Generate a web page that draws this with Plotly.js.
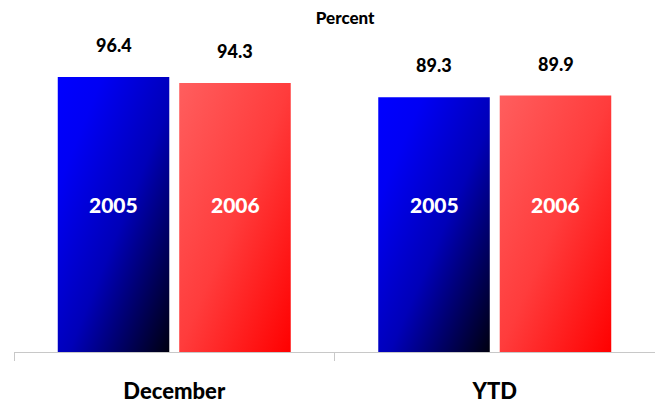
<!DOCTYPE html>
<html>
<head>
<meta charset="utf-8">
<script src="https://cdn.plot.ly/plotly-3.0.1.min.js"></script>
<style>html,body{margin:0;padding:0;background:#fff;}#chart{width:655px;height:403px;}</style>
</head>
<body>
<div id="chart"></div>
<script>
const categories = ['December', 'YTD'];
const seriesNames = ['2005', '2006'];
const values2005 = [96.4, 89.3];
const values2006 = [94.3, 89.9];

const FONT = 'Lato, "Open Sans", sans-serif';
const slotShift = 60.75;

const traces = [
  {type: 'bar', name: seriesNames[0], x: categories, y: values2005, marker: {color: '#0000cc', line: {width: 0}}, hoverinfo: 'none'},
  {type: 'bar', name: seriesNames[1], x: categories, y: values2006, marker: {color: '#ff3030', line: {width: 0}}, hoverinfo: 'none'}
];

const annotations = [];
const allValues = [values2005, values2006];
allValues.forEach((vals, si) => {
  const shift = si === 0 ? -slotShift : slotShift;
  categories.forEach((c, ci) => {
    annotations.push({
      x: c, y: vals[ci], xref: 'x', yref: 'y', xshift: shift, yshift: 19,
      text: vals[ci].toFixed(1), showarrow: false, yanchor: 'bottom',
      font: {family: FONT, size: 18, color: '#000', weight: 900}
    });
    annotations.push({
      x: c, y: 0.474, xref: 'x', yref: 'paper', xshift: shift,
      text: seriesNames[si], showarrow: false, yanchor: 'middle',
      font: {family: FONT, size: 21, color: '#fff', weight: 900}
    });
  });
});

const layout = {
  width: 655, height: 403,
  margin: {l: 14, r: 0, t: 40, b: 51},
  paper_bgcolor: '#fff', plot_bgcolor: '#fff',
  showlegend: false,
  barmode: 'group', bargap: 0.242, bargroupgap: 0.082,
  title: {text: 'Percent', x: 0.527, xanchor: 'center', y: 0.955, yanchor: 'middle',
          font: {family: FONT, size: 17, color: '#000', weight: 900}},
  xaxis: {
    showline: true, linecolor: '#c8c8c8', linewidth: 1,
    ticks: 'outside', tickson: 'boundaries', ticklen: 8, tickcolor: '#c8c8c8', tickwidth: 1,
    ticklabelstandoff: 20,
    tickfont: {family: FONT, size: 22, color: '#000', weight: 900},
    showgrid: false, zeroline: false, fixedrange: true
  },
  yaxis: {range: [0, 109.4], visible: false, showgrid: false, zeroline: false, fixedrange: true},
  annotations: annotations
};

Plotly.newPlot('chart', traces, layout, {displayModeBar: false, staticPlot: true}).then(gd => {
  const svgNS = 'http://www.w3.org/2000/svg';
  const svg = gd.querySelector('svg.main-svg');
  let defs = svg.querySelector('defs');
  if (!defs) { defs = document.createElementNS(svgNS, 'defs'); svg.insertBefore(defs, svg.firstChild); }
  const grads = [
    {id: 'grad2005', stops: [[0, '#0000ff'], [0.2, '#0000f4'], [0.55, '#0000b8'], [1, '#000010']]},
    {id: 'grad2006', stops: [[0, '#ff5e5e'], [0.5, '#ff3c3c'], [1, '#ff0000']]}
  ];
  grads.forEach(g => {
    const lg = document.createElementNS(svgNS, 'linearGradient');
    lg.setAttribute('id', g.id);
    lg.setAttribute('x1', '0'); lg.setAttribute('y1', '0');
    lg.setAttribute('x2', '1'); lg.setAttribute('y2', '1');
    g.stops.forEach(s => {
      const st = document.createElementNS(svgNS, 'stop');
      st.setAttribute('offset', s[0]);
      st.setAttribute('stop-color', s[1]);
      lg.appendChild(st);
    });
    defs.appendChild(lg);
  });
  const barTraces = gd.querySelectorAll('.barlayer .trace.bars');
  barTraces.forEach((t, i) => {
    t.querySelectorAll('.point path').forEach(p => {
      p.style.setProperty('fill', 'url(#' + grads[i].id + ')');
    });
  });
});
</script>
</body>
</html>
